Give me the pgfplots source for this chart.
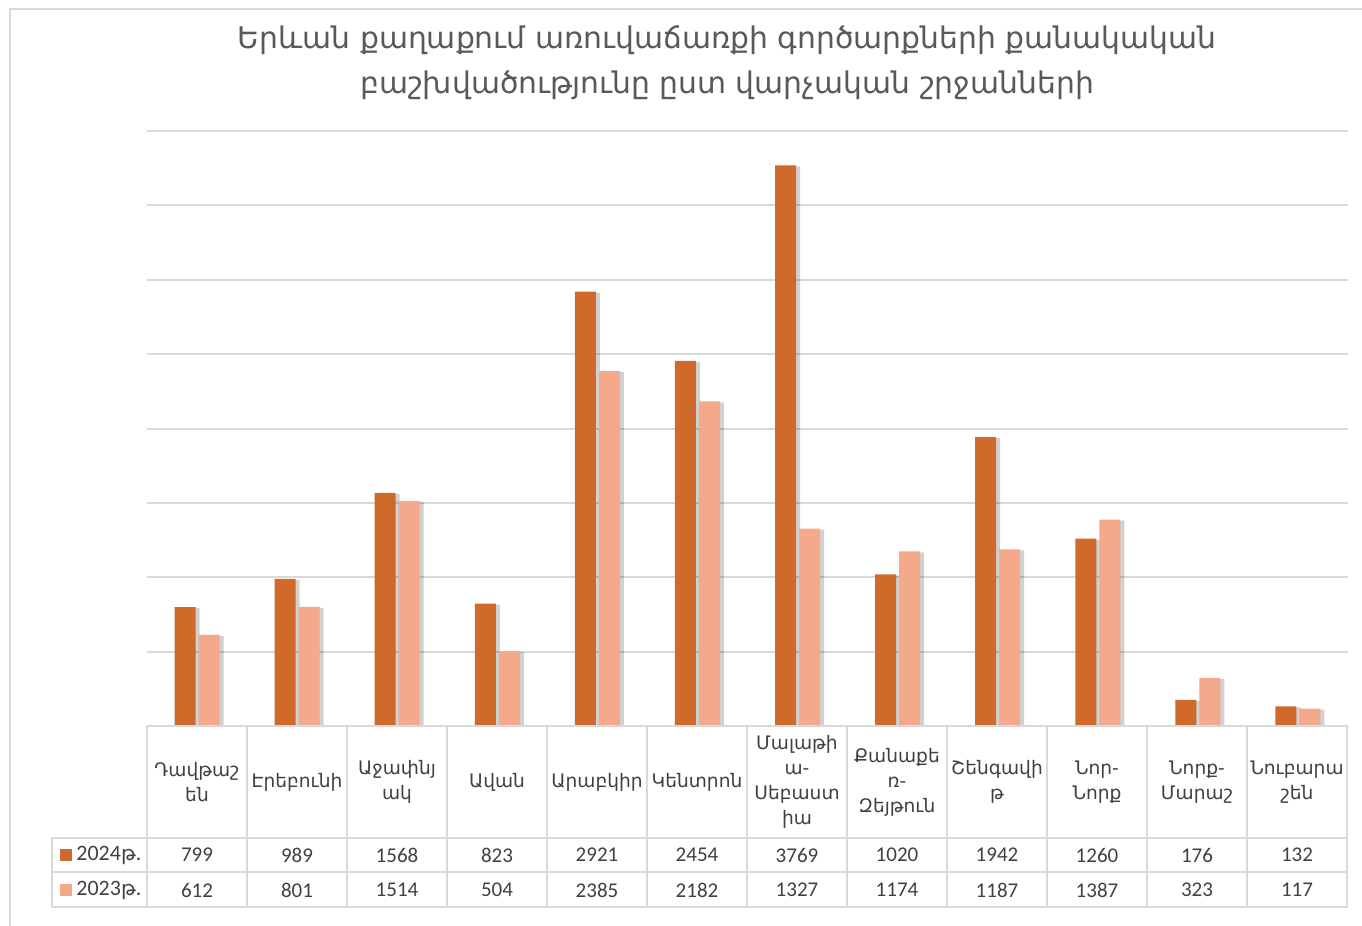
\documentclass[border=0pt]{standalone}
\usepackage{pgfplots}
\pgfplotsset{compat=1.18}
\usepackage{pgfplotstable}
\usepackage{fontspec}
\setmainfont{Carlito}
\newfontfamily\arm{DejaVu Sans}
\definecolor{c24}{HTML}{D06A2B}
\definecolor{c23}{HTML}{F3A98A}
\definecolor{gridc}{HTML}{D9D9D9}
\definecolor{txt}{HTML}{404040}
\definecolor{ttl}{HTML}{595959}

\pgfplotstableread{
x y24 y23
0 799 612
1 989 801
2 1568 1514
3 823 504
4 2921 2385
5 2454 2182
6 3769 1327
7 1020 1174
8 1942 1187
9 1260 1387
10 176 323
11 132 117
}\data

\begin{document}
\begin{tikzpicture}
\path[use as bounding box] (0,0) rectangle (681pt,-463pt);
\begin{axis}[
    at={(73.5pt,-363pt)}, anchor=south west,
    scale only axis, width=600.5pt, height=297.5pt,
    xmin=-0.5, xmax=11.5, ymin=0, ymax=4000,
    ytick={500,1000,...,4000}, yticklabel=\empty, xtick=\empty,
    ymajorgrids, grid style={gridc, line width=1pt},
    axis line style={draw=none}, major tick length=0pt,
    ybar=1.5pt, bar width=10.5pt, clip=false,
]
\addplot[fill=c24, draw=none,
  preaction={fill=black, fill opacity=0.18, transform canvas={xshift=2pt,yshift=-0.5pt}}]
  table[x=x,y=y24]{\data};
\addplot[fill=c23, draw=none,
  preaction={fill=black, fill opacity=0.18, transform canvas={xshift=2pt,yshift=-0.5pt}}]
  table[x=x,y=y23]{\data};
\end{axis}

\begin{scope}[x=0.5pt,y=-0.5pt]
% outer frame
\draw[gridc, line width=1pt] (10,926) -- (10,9) -- (1362,9);
% title
\node[ttl, align=center, font=\arm\fontsize{14.9}{22.5}\selectfont] at (727,63)
  {Երևան քաղաքում առուվաճառքի գործարքների քանակական\\բաշխվածությունը ըստ վարչական շրջանների};
% data table grid
\draw[gridc, line width=1pt] (147,726) -- (1348,726);
\foreach \yy in {838,872,907} \draw[gridc, line width=1pt] (52,\yy) -- (1348,\yy);
\draw[gridc, line width=1pt] (52,838) -- (52,907);
\foreach \k in {0,...,12} \draw[gridc, line width=1pt] (147+100*\k,726) -- (147+100*\k,907);
% category names
\foreach \name [count=\i from 0] in {Դավթաշ\\են, Էրեբունի, Աջափնյ\\ակ, Ավան, Արաբկիր, Կենտրոն,
    Մալաթի\\ա-\\Սեբաստ\\իա, Քանաքե\\ռ-\\Զեյթուն, Շենգավի\\թ, Նոր-\\Նորք, Նորք-\\Մարաշ, Նուբարա\\շեն}
  \node[txt, align=center, font=\arm\fontsize{9.3}{12.5}\selectfont] at (197+100*\i,782) {\name};
% values
\foreach \i in {0,...,11}{
  \pgfplotstablegetelem{\i}{y24}\of\data
  \node[txt, font=\fontsize{10.5}{12}\selectfont] at (197+100*\i,855) {\pgfplotsretval};
  \pgfplotstablegetelem{\i}{y23}\of\data
  \node[txt, font=\fontsize{10.5}{12}\selectfont] at (197+100*\i,890) {\pgfplotsretval};
}
% row labels
\fill[c24] (60,849) rectangle (72,861);
\fill[c23] (60,884) rectangle (72,896);
\node[txt, anchor=west, inner sep=0pt, font=\fontsize{11}{12}\selectfont] at (76,855) {2024{\arm\fontsize{10}{12}\selectfont թ}.};
\node[txt, anchor=west, inner sep=0pt, font=\fontsize{11}{12}\selectfont] at (76,890) {2023{\arm\fontsize{10}{12}\selectfont թ}.};
\end{scope}
\end{tikzpicture}
\end{document}
